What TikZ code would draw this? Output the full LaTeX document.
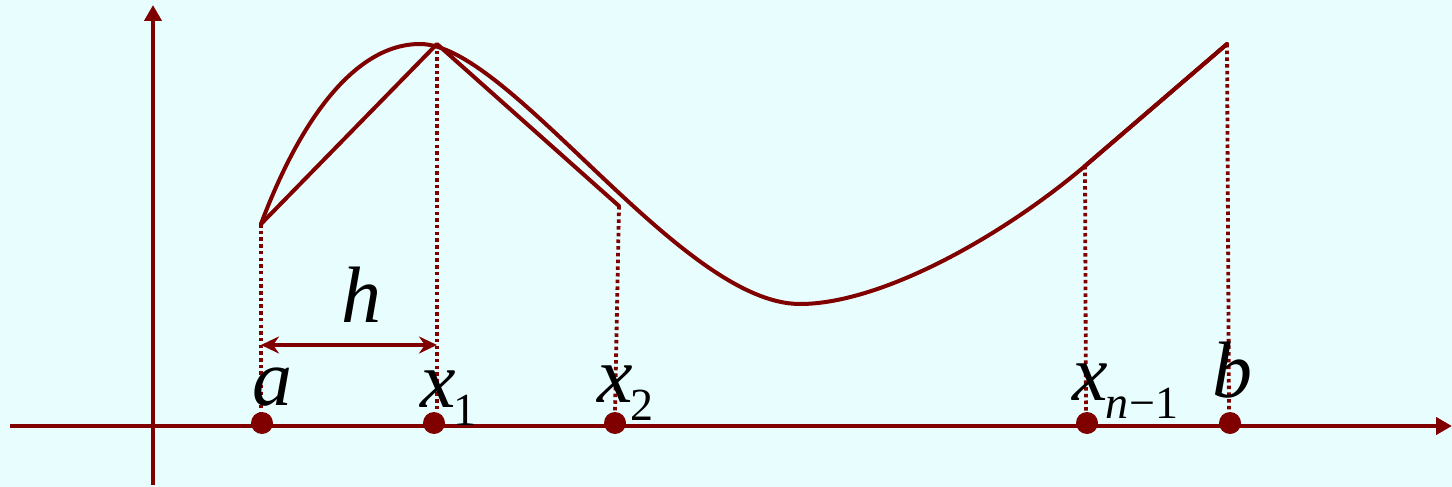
\documentclass[tikz,border=0pt]{standalone}
\usepackage{fontspec}
\setmainfont{Liberation Serif}
\usetikzlibrary{arrows.meta}
\definecolor{dred}{RGB}{128,0,0}
\definecolor{bgc}{RGB}{232,254,254}
\tikzset{
  axis/.style={draw=dred, line width=4.2pt, -{Triangle[length=16pt,width=17pt]}},
  chord/.style={draw=dred, line width=4pt, line cap=round, line join=round},
  guide/.style={draw=dred, line width=3.8pt, dash pattern=on 3.5pt off 3.2pt},
  pt/.style={circle, fill=dred, inner sep=0pt, minimum size=22pt},
  lab/.style={inner sep=0pt, font=\fontsize{80}{80}\selectfont\itshape},
  measure/.style={draw=dred, line width=4pt, {Stealth[length=18pt,width=17pt]}-{Stealth[length=18pt,width=17pt]}}
}
\newcommand{\subsc}[1]{\lower18pt\hbox{\fontsize{46}{46}\selectfont\upshape #1}}
\begin{document}
\begin{tikzpicture}[x=1pt,y=-1pt]
\fill[bgc] (0,0) rectangle (1452,487);
\useasboundingbox (0,0) rectangle (1452,487);
% axes
\coordinate (xs) at (10,426);
\coordinate (xe) at (1452,426);
\coordinate (ys) at (153,485);
\coordinate (ye) at (153,5);
\draw[axis] (xs) -- (xe);
\draw[axis] (ys) -- (ye);
% curve points
\coordinate (fa) at (261,224);
\coordinate (fp) at (420,44);
\coordinate (f1) at (437,44);
\coordinate (f2) at (619,206);
\coordinate (fm) at (800,304);
\coordinate (fn) at (1085,166);
\coordinate (fb) at (1227,44);
% dots on axis
\node[pt] (a) at (262,423) {};
\node[pt] (x1) at (434,423) {};
\node[pt] (x2) at (615,423) {};
\node[pt] (xn) at (1087,423) {};
\node[pt] (b) at (1230,423) {};
% guides
\draw[guide] (fa) -- (261,412);
\draw[guide] (f1) -- (437,412);
\draw[guide] (f2) -- (615,412);
\draw[guide] (fn) -- (1086,412);
\draw[guide] (fb) -- (1229,412);
% curve
\draw[chord] (fa) .. controls (300,120) and (355,44) .. (fp)
  .. controls (510,44) and (680,304) .. (fm)
  .. controls (880,304) and (1000,238) .. (fn) -- (fb);
% chords
\draw[chord] (fa) -- (f1) -- (f2);
\draw[chord] (fn) -- (fb);
% h measure
\coordinate (ha) at (261,345);
\coordinate (hb) at (437,345);
\draw[measure] (ha) -- (hb);
\node[lab, anchor=base west] (hl) at (341,322) {h};
% labels
\node[lab, anchor=base west] (la) at (252,405) {a};
\node[lab, anchor=base west] (l1) at (420,407) {x\kern-2pt\subsc{1}};
\node[lab, anchor=base west] (l2) at (597,402) {x\kern-2pt\subsc{2}};
\node[lab, anchor=base west] (ln) at (1072,400) {x\kern-2pt\subsc{\itshape n\upshape\kern1pt−1}};
\node[lab, anchor=base west] (lb) at (1212,397) {b};
\end{tikzpicture}
\end{document}
